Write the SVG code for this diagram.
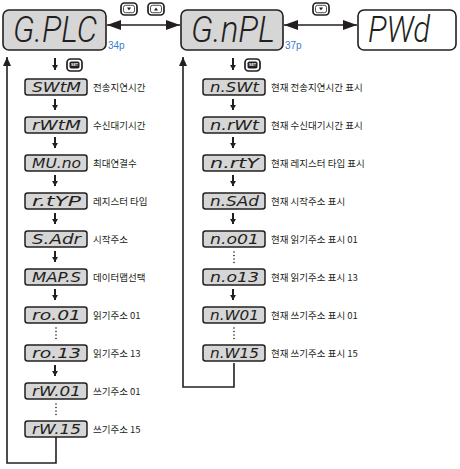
<svg xmlns="http://www.w3.org/2000/svg" width="460" height="469" viewBox="0 0 460 469">
<style>
.big{fill:#d6d6d6;stroke:#231f20;stroke-width:1.6}
.bigw{fill:#fff;stroke:#231f20;stroke-width:1.6}
.box{fill:#d6d6d6;stroke:#231f20;stroke-width:1.5}
.seg{font-style:italic;fill:#231f20}
.segL{font-family:Roboto,"DejaVu Sans",sans-serif;font-size:36px;font-weight:300}
.segS{font-family:"DejaVu Sans",sans-serif;font-size:14px;font-weight:normal}
.lbl{font-family:"Noto Sans CJK KR",sans-serif;font-size:9.5px;fill:#231f20}
.pg{font-family:"Liberation Sans",sans-serif;font-size:10px;fill:#3b7dd0}
.ln{fill:none;stroke:#231f20;stroke-width:1.6}
.dn{fill:none;stroke:#231f20;stroke-width:2}
.dot{fill:#231f20}
.bo{fill:#fff;stroke:#231f20;stroke-width:1.7}
.bi{fill:none;stroke:#231f20;stroke-width:0.8}
.tri{fill:#231f20}
</style>
<defs>
<marker id="ah" markerUnits="userSpaceOnUse" markerWidth="14" markerHeight="10" refX="14" refY="5" orient="auto-start-reverse"><path d="M0,0 L14,5 L0,10 z" fill="#231f20"/></marker>
<marker id="da" markerUnits="userSpaceOnUse" markerWidth="6" markerHeight="6" refX="5" refY="3" orient="auto"><path d="M0,0 L5,3 L0,6 z" fill="#231f20"/></marker>
<marker id="ua" markerUnits="userSpaceOnUse" markerWidth="9" markerHeight="8" refX="9" refY="4" orient="auto"><path d="M0,0 L9,4 L0,8 z" fill="#231f20"/></marker>
</defs>

<g id="connectors">
<line class="ln" x1="107" y1="25" x2="180" y2="25" marker-start="url(#ah)" marker-end="url(#ah)"/>
<line class="ln" x1="284" y1="25" x2="357" y2="25" marker-start="url(#ah)" marker-end="url(#ah)"/>
<path class="ln" d="M56,437 V463 H7 V57" marker-end="url(#ua)"/>
<path class="ln" d="M234,363 V387 H183 V57" marker-end="url(#ua)"/>
<g class="dn">
<line x1="55" y1="58" x2="55" y2="70" marker-end="url(#da)"/>
<line x1="55" y1="99" x2="55" y2="110" marker-end="url(#da)"/>
<line x1="55" y1="137" x2="55" y2="148" marker-end="url(#da)"/>
<line x1="55" y1="175" x2="55" y2="186" marker-end="url(#da)"/>
<line x1="55" y1="213" x2="55" y2="224" marker-end="url(#da)"/>
<line x1="55" y1="251" x2="55" y2="262" marker-end="url(#da)"/>
<line x1="55" y1="289" x2="55" y2="300" marker-end="url(#da)"/>
<line x1="55" y1="365" x2="55" y2="376" marker-end="url(#da)"/>
<line x1="233" y1="58" x2="233" y2="70" marker-end="url(#da)"/>
<line x1="233" y1="99" x2="233" y2="110" marker-end="url(#da)"/>
<line x1="233" y1="137" x2="233" y2="148" marker-end="url(#da)"/>
<line x1="233" y1="175" x2="233" y2="186" marker-end="url(#da)"/>
<line x1="233" y1="213" x2="233" y2="224" marker-end="url(#da)"/>
<line x1="233" y1="289" x2="233" y2="300" marker-end="url(#da)"/>
</g>
<g class="dot">
<circle cx="56" cy="328" r="0.8"/><circle cx="56" cy="331.5" r="0.8"/><circle cx="56" cy="335" r="0.8"/><circle cx="56" cy="338.5" r="0.8"/>
<circle cx="56" cy="404" r="0.8"/><circle cx="56" cy="407.5" r="0.8"/><circle cx="56" cy="411" r="0.8"/><circle cx="56" cy="414.5" r="0.8"/>
<circle cx="234" cy="252" r="0.8"/><circle cx="234" cy="255.5" r="0.8"/><circle cx="234" cy="259" r="0.8"/><circle cx="234" cy="262.5" r="0.8"/>
<circle cx="234" cy="328" r="0.8"/><circle cx="234" cy="331.5" r="0.8"/><circle cx="234" cy="335" r="0.8"/><circle cx="234" cy="338.5" r="0.8"/>
</g>
</g>

<g id="keys">
<g id="key-down-1"><rect class="bo" x="121" y="3" width="16" height="12" rx="3.5"/><rect class="bi" x="123.5" y="5.3" width="11" height="7.4" rx="2"/><path class="tri" d="M127,7.5 L131,7.5 L129,10.5 z"/></g>
<g id="key-up-1"><rect class="bo" x="148" y="3" width="16" height="12" rx="3.5"/><rect class="bi" x="150.5" y="5.3" width="11" height="7.4" rx="2"/><path class="tri" d="M154,10.5 L158,10.5 L156,7.5 z"/></g>
<g id="key-down-2"><rect class="bo" x="313" y="3" width="16" height="12" rx="3.5"/><rect class="bi" x="315.5" y="5.3" width="11" height="7.4" rx="2"/><path class="tri" d="M319,7.5 L323,7.5 L321,10.5 z"/></g>
<g id="key-set-1"><rect class="bo" x="67" y="59" width="15" height="12" rx="3.5"/><rect x="69.5" y="61.5" width="10" height="7" rx="1.8" fill="#231f20"/><text x="74.5" y="66.3" font-family="Liberation Sans,sans-serif" font-size="3.6" font-weight="bold" fill="#fff" text-anchor="middle">SET</text></g>
<g id="key-set-2"><rect class="bo" x="245" y="59" width="15" height="12" rx="3.5"/><rect x="247.5" y="61.5" width="10" height="7" rx="1.8" fill="#231f20"/><text x="252.5" y="66.3" font-family="Liberation Sans,sans-serif" font-size="3.6" font-weight="bold" fill="#fff" text-anchor="middle">SET</text></g>
</g>

<g id="n-gplc"><rect class="big" x="3" y="10" width="103" height="40" rx="6"/><text class="seg segL" x="13" y="42" textLength="84" lengthAdjust="spacingAndGlyphs">G.PLC</text><text class="pg" x="108" y="49">34p</text></g>
<g id="n-gnpl"><rect class="big" x="181" y="10" width="102" height="40" rx="6"/><text class="seg segL" x="191" y="42" textLength="84" lengthAdjust="spacingAndGlyphs">G.nPL</text><text class="pg" x="285" y="49">37p</text></g>
<g id="n-pwd"><rect class="bigw" x="358" y="10" width="98" height="40" rx="6"/><text class="seg segL" x="368" y="42" textLength="62" lengthAdjust="spacingAndGlyphs">PWd</text></g>

<g id="n-swtm"><rect class="box" x="25" y="79" width="62" height="16" rx="2.5"/><text class="seg segS" x="32" y="92.3" textLength="49" lengthAdjust="spacingAndGlyphs">SWtM</text><text class="lbl" x="93" y="90.5">전송지연시간</text></g>
<g id="n-rwtm"><rect class="box" x="25" y="117" width="62" height="16" rx="2.5"/><text class="seg segS" x="32" y="130.3" textLength="49" lengthAdjust="spacingAndGlyphs">rWtM</text><text class="lbl" x="93" y="128.5">수신대기시간</text></g>
<g id="n-muno"><rect class="box" x="25" y="155" width="62" height="16" rx="2.5"/><text class="seg segS" x="32" y="168.3" textLength="49" lengthAdjust="spacingAndGlyphs">MU.no</text><text class="lbl" x="93" y="166.5">최대연결수</text></g>
<g id="n-rtyp"><rect class="box" x="25" y="193" width="62" height="16" rx="2.5"/><text class="seg segS" x="32" y="206.3" textLength="49" lengthAdjust="spacingAndGlyphs">r.tYP</text><text class="lbl" x="93" y="204.5">레지스터 타입</text></g>
<g id="n-sadr"><rect class="box" x="25" y="231" width="62" height="16" rx="2.5"/><text class="seg segS" x="32" y="244.3" textLength="49" lengthAdjust="spacingAndGlyphs">S.Adr</text><text class="lbl" x="93" y="242.5">시작주소</text></g>
<g id="n-maps"><rect class="box" x="25" y="269" width="62" height="16" rx="2.5"/><text class="seg segS" x="32" y="282.3" textLength="49" lengthAdjust="spacingAndGlyphs">MAP.S</text><text class="lbl" x="93" y="280.5">데이터맵선택</text></g>
<g id="n-ro01"><rect class="box" x="25" y="307" width="62" height="16" rx="2.5"/><text class="seg segS" x="32" y="320.3" textLength="49" lengthAdjust="spacingAndGlyphs">ro.01</text><text class="lbl" x="93" y="318.5">읽기주소 01</text></g>
<g id="n-ro13"><rect class="box" x="25" y="345" width="62" height="16" rx="2.5"/><text class="seg segS" x="32" y="358.3" textLength="49" lengthAdjust="spacingAndGlyphs">ro.13</text><text class="lbl" x="93" y="356.5">읽기주소 13</text></g>
<g id="n-rw01"><rect class="box" x="25" y="383" width="62" height="16" rx="2.5"/><text class="seg segS" x="32" y="396.3" textLength="49" lengthAdjust="spacingAndGlyphs">rW.01</text><text class="lbl" x="93" y="394.5">쓰기주소 01</text></g>
<g id="n-rw15"><rect class="box" x="25" y="421" width="62" height="16" rx="2.5"/><text class="seg segS" x="32" y="434.3" textLength="49" lengthAdjust="spacingAndGlyphs">rW.15</text><text class="lbl" x="93" y="432.5">쓰기주소 15</text></g>

<g id="n-nswt"><rect class="box" x="203" y="79" width="62" height="16" rx="2.5"/><text class="seg segS" x="210" y="92.3" textLength="49" lengthAdjust="spacingAndGlyphs">n.SWt</text><text class="lbl" x="271" y="90.5">현재 전송지연시간 표시</text></g>
<g id="n-nrwt"><rect class="box" x="203" y="117" width="62" height="16" rx="2.5"/><text class="seg segS" x="210" y="130.3" textLength="49" lengthAdjust="spacingAndGlyphs">n.rWt</text><text class="lbl" x="271" y="128.5">현재 수신대기시간 표시</text></g>
<g id="n-nrty"><rect class="box" x="203" y="155" width="62" height="16" rx="2.5"/><text class="seg segS" x="210" y="168.3" textLength="49" lengthAdjust="spacingAndGlyphs">n.rtY</text><text class="lbl" x="271" y="166.5">현재 레지스터 타입 표시</text></g>
<g id="n-nsad"><rect class="box" x="203" y="193" width="62" height="16" rx="2.5"/><text class="seg segS" x="210" y="206.3" textLength="49" lengthAdjust="spacingAndGlyphs">n.SAd</text><text class="lbl" x="271" y="204.5">현재 시작주소 표시</text></g>
<g id="n-no01"><rect class="box" x="203" y="231" width="62" height="16" rx="2.5"/><text class="seg segS" x="210" y="244.3" textLength="49" lengthAdjust="spacingAndGlyphs">n.o01</text><text class="lbl" x="271" y="242.5">현재 읽기주소 표시 01</text></g>
<g id="n-no13"><rect class="box" x="203" y="269" width="62" height="16" rx="2.5"/><text class="seg segS" x="210" y="282.3" textLength="49" lengthAdjust="spacingAndGlyphs">n.o13</text><text class="lbl" x="271" y="280.5">현재 읽기주소 표시 13</text></g>
<g id="n-nw01"><rect class="box" x="203" y="307" width="62" height="16" rx="2.5"/><text class="seg segS" x="210" y="320.3" textLength="49" lengthAdjust="spacingAndGlyphs">n.W01</text><text class="lbl" x="271" y="318.5">현재 쓰기주소 표시 01</text></g>
<g id="n-nw15"><rect class="box" x="203" y="345" width="62" height="16" rx="2.5"/><text class="seg segS" x="210" y="358.3" textLength="49" lengthAdjust="spacingAndGlyphs">n.W15</text><text class="lbl" x="271" y="356.5">현재 쓰기주소 표시 15</text></g>
</svg>
